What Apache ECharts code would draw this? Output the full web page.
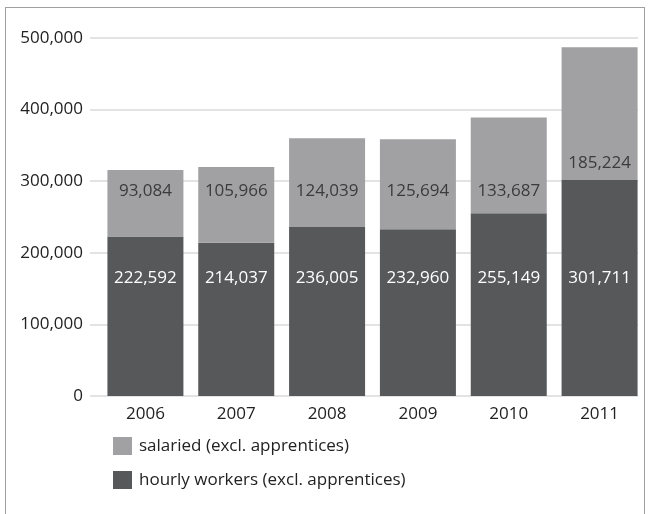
<!DOCTYPE html>
<html><head><meta charset="utf-8">
<script src="https://cdn.jsdelivr.net/npm/echarts@6/dist/echarts.min.js"></script>
<style>
html,body{margin:0;padding:0;background:#fff;}
#frame{position:absolute;left:5px;top:7px;width:640px;height:520px;border:1px solid #a0a0a0;box-sizing:border-box;}
#chart{position:absolute;left:0;top:0;width:649px;height:514px;}
</style></head>
<body>
<div id="frame"></div>
<div id="chart"></div>
<script>
const years = ['2006','2007','2008','2009','2010','2011'];
const hourly = [222592, 214037, 236005, 232960, 255149, 301711];
const salaried = [93084, 105966, 124039, 125694, 133687, 185224];
const yTicks = [0, 100000, 200000, 300000, 400000, 500000];
const seriesNames = ['salaried (excl. apprentices)', 'hourly workers (excl. apprentices)'];

const fmt = v => v.toLocaleString('en-US');
const FONT = 'Open Sans';
const FS = 17;
const chart = echarts.init(document.getElementById('chart'), null, {renderer:'canvas'});
const yMax = yTicks[yTicks.length-1];
// label anchor levels (layout only)
const salariedLabelLevel = years.map((y,i)=> hourly[i] > 295000 ? 325000 : 286000);

chart.setOption({
  animation:false,
  textStyle:{fontFamily:FONT},
  grid:[
    {left:90, right:11, top:38, bottom:118},
    {left:100, right:4, top:38, bottom:118}
  ],
  xAxis:[
    {gridIndex:0, type:'value', show:false, min:0, max:1},
    {gridIndex:1, type:'category', data:years,
      axisLine:{show:false}, axisTick:{show:false},
      axisLabel:{color:'#222', fontSize:FS, fontFamily:FONT, margin:10}}
  ],
  yAxis:[
    {gridIndex:0, type:'value', min:0, max:yMax, interval:100000,
      axisLine:{show:false}, axisTick:{show:false},
      axisLabel:{color:'#222', fontSize:FS, fontFamily:FONT, margin:7, formatter:v=>fmt(v)},
      splitLine:{lineStyle:{color:'#e3e3e3', width:2}}},
    {gridIndex:1, type:'value', min:0, max:yMax, interval:100000, show:false, splitLine:{show:false}}
  ],
  legend:{
    orient:'vertical', left:108, top:432, itemWidth:19, itemHeight:18, itemGap:16,
    icon:'rect', data:seriesNames,
    textStyle:{color:'#222', fontSize:FS, fontFamily:FONT, padding:[0,0,0,2]}
  },
  series:[
    {name:seriesNames[1], type:'bar', stack:'s', xAxisIndex:1, yAxisIndex:1, barWidth:76,
      data:hourly, itemStyle:{color:'#57585a'},
      label:{show:true, position:'insideBottom', distance:109, color:'#fff', fontSize:FS, fontFamily:FONT, formatter:p=>fmt(p.value)}},
    {name:seriesNames[0], type:'bar', stack:'s', xAxisIndex:1, yAxisIndex:1, barWidth:76,
      data:salaried, itemStyle:{color:'#a1a1a3'}, label:{show:false}},
    {type:'scatter', xAxisIndex:1, yAxisIndex:1, symbolSize:0, silent:true,
      data:years.map((y,i)=>[y, salariedLabelLevel[i]]),
      label:{show:true, position:'inside', color:'#222', fontSize:FS, fontFamily:FONT,
        formatter:p=>fmt(salaried[p.dataIndex])}}
  ]
});
</script>
</body></html>
